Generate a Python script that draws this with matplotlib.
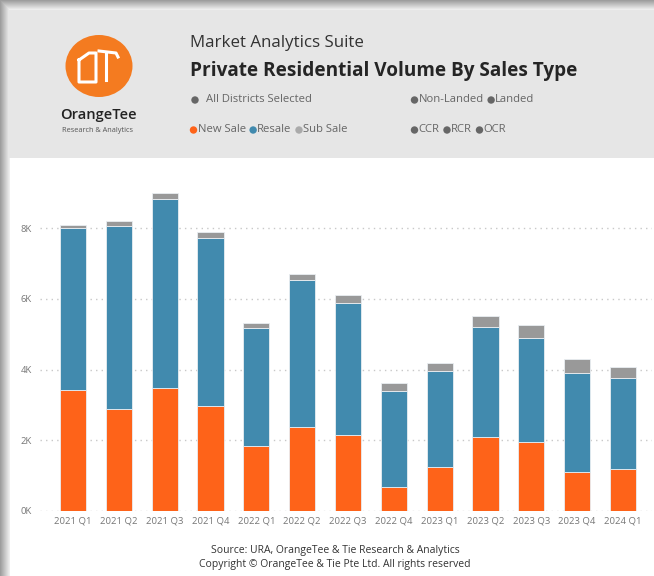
import matplotlib
matplotlib.use("Agg")
import matplotlib.pyplot as plt
from matplotlib.patches import Rectangle, Ellipse, Circle
import numpy as np

plt.rcParams['font.family'] = ['Open Sans', 'DejaVu Sans']

quarters = ["2021 Q1", "2021 Q2", "2021 Q3", "2021 Q4", "2022 Q1", "2022 Q2",
            "2022 Q3", "2022 Q4", "2023 Q1", "2023 Q2", "2023 Q3", "2023 Q4", "2024 Q1"]
new_sale = [3420, 2900, 3470, 2970, 1840, 2370, 2160, 690, 1240, 2100, 1940, 1100, 1190]
resale = [4580, 5170, 5360, 4760, 3350, 4170, 3730, 2720, 2730, 3120, 2950, 2800, 2580]
sub_sale = [90, 140, 160, 160, 120, 170, 210, 210, 230, 290, 360, 390, 300]

yticks = [0, 2000, 4000, 6000, 8000]
ytick_labels = ["0K", "2K", "4K", "6K", "8K"]

ORANGE = "#FE6319"
BLUE = "#418AAE"
GREY = "#999999"

W, H = 654, 576
fig = plt.figure(figsize=(W / 100, H / 100), dpi=100)

# background axes in pixel coordinates
bg = fig.add_axes([0, 0, 1, 1], zorder=0)
bg.set_xlim(0, W)
bg.set_ylim(H, 0)
bg.axis("off")
bg.add_patch(Rectangle((0, 0), W, H, color="white"))
# shadow gradient top and left
for i in range(10):
    c = 0.62 + 0.035 * i
    bg.add_patch(Rectangle((i, i), W - i, 1, color=(c, c, c), lw=0))
    bg.add_patch(Rectangle((i, i), 1, H - i, color=(c, c, c), lw=0))
# header band
bg.add_patch(Rectangle((9, 10), W - 9, 148, color="#e6e6e6", lw=0))

# logo
bg.add_patch(Ellipse((99, 66), 67, 62, color="#F47B20", lw=0))
bg.plot([79, 89, 96, 96, 79, 79], [60, 53, 53, 82, 82, 60], color="white", lw=2.2,
        solid_joinstyle="round")
bg.plot([99, 116, 118], [51, 53, 57], color="white", lw=2.2, solid_joinstyle="round")
bg.plot([106, 106], [53, 80], color="white", lw=2.2)
bg.text(98, 115, "OrangeTee", ha="center", va="center", fontsize=10.5,
        color="#222222", fontweight="semibold")
bg.text(98, 131, "Research & Analytics", ha="center", va="center", fontsize=5.3,
        color="#555555")

# header texts
bg.text(190, 43, "Market Analytics Suite", ha="left", va="center", fontsize=12.2,
        color="#333333")
bg.text(190, 71, "Private Residential Volume By Sales Type", ha="left", va="center",
        fontsize=13.7, fontweight="bold", color="#252525")

FS = 8.1


def dot_text(x, y, items, gap=4):
    cx = x
    renderer = fig.canvas.get_renderer()
    for col, lab in items:
        bg.add_patch(Circle((cx + 3.5, y), 3.7, color=col, lw=0))
        t = bg.text(cx + 7.5, y, lab, ha="left", va="center", fontsize=FS, color="#666666")
        bb = t.get_window_extent(renderer=renderer)
        cx = cx + 7.5 + bb.width + gap


bg.add_patch(Circle((195, 100), 3.7, color="#666666", lw=0))
bg.text(206, 100, "All Districts Selected", ha="left", va="center", fontsize=FS,
        color="#666666")
dot_text(411, 100, [("#666666", "Non-Landed"), ("#666666", "Landed")])
dot_text(190, 130, [(ORANGE, "New Sale"), (BLUE, "Resale"), ("#aaaaaa", "Sub Sale")])
dot_text(411, 130, [("#666666", "CCR"), ("#666666", "RCR"), ("#666666", "OCR")])

# footer
bg.text(335, 550, "Source: URA, OrangeTee & Tie Research & Analytics", ha="center",
        va="center", fontsize=7.5, color="#333333")
bg.text(335, 564, "Copyright \u00a9 OrangeTee & Tie Pte Ltd. All rights reserved",
        ha="center", va="center", fontsize=7.5, color="#333333")

# main chart axes
ax_left, ax_right = 40, 652
y0_px, ymax_px = 511, 175.3
ax = fig.add_axes([ax_left / W, (H - y0_px) / H, (ax_right - ax_left) / W,
                   (y0_px - ymax_px) / H], zorder=2)
ax.patch.set_alpha(0)

x = np.arange(len(quarters))
ns = np.array(new_sale)
rs = np.array(resale)
ss = np.array(sub_sale)
bw = 0.57
ec = "#e9eef2"
ax.bar(x, ns, width=bw, color=ORANGE, edgecolor=ec, linewidth=0.6, zorder=3)
ax.bar(x, rs, bottom=ns, width=bw, color=BLUE, edgecolor=ec, linewidth=0.6, zorder=3)
ax.bar(x, ss, bottom=ns + rs, width=bw, color=GREY, edgecolor=ec, linewidth=0.6, zorder=3)

ax.set_xlim(-0.72, len(quarters) - 1 + 0.633)
ax.set_ylim(0, 9500)
ax.set_yticks(yticks)
ax.set_yticklabels(ytick_labels)
ax.set_xticks(x)
ax.set_xticklabels(quarters)
ax.tick_params(axis="both", length=0, labelsize=6.8, labelcolor="#777777")
ax.tick_params(axis="y", pad=6)
ax.tick_params(axis="x", pad=4)
ax.grid(axis="y", color="#c8c8c8", linestyle=(0, (1, 3)), linewidth=1.0, zorder=0)
for s in ax.spines.values():
    s.set_visible(False)

fig.savefig("out.png", dpi=100)
